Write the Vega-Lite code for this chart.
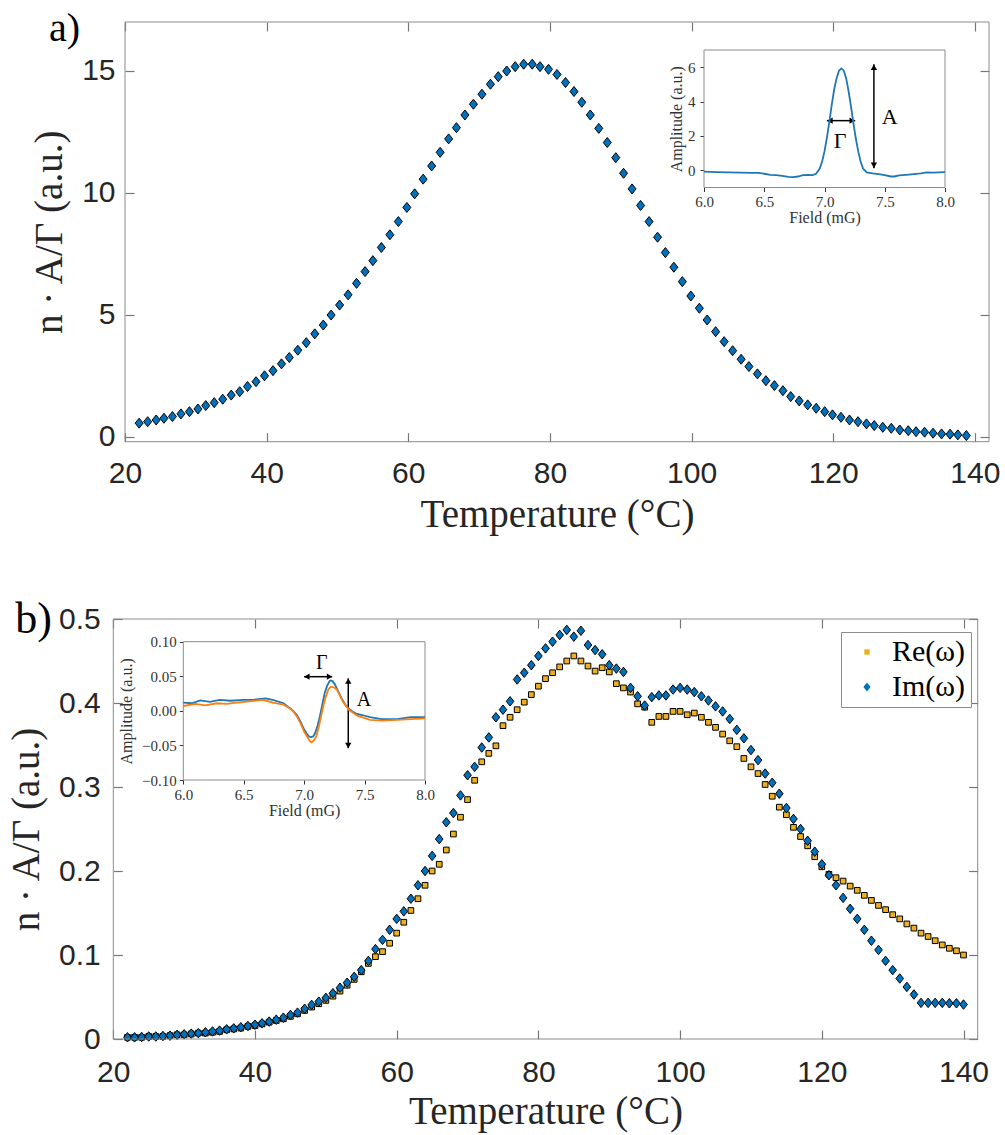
{
  "$schema": "https://vega.github.io/schema/vega-lite/v6.json",
  "width": 1005,
  "height": 1135,
  "autosize": {"type": "none"},
  "padding": 0,
  "background": "white",
  "config": {
    "view": {"stroke": null},
    "axis": {"zindex": 1, "grid": false, "labelFont": "Liberation Sans", "labelFontSize": 30, "labelColor": "#262626", "domain": false, "ticks": true, "tickColor": "#777777", "tickWidth": 1.2, "tickSize": 9, "titleFont": "Liberation Serif", "titleFontSize": 39, "titleFontWeight": "normal", "titleColor": "#262626", "labelFlush": false, "labelOverlap": false, "labelBound": false}
  },
  "datasets": {
    "a": [
      {"T":22.0,"V":0.56},{"T":23.2,"V":0.62},{"T":24.4,"V":0.69},{"T":25.5,"V":0.76},{"T":26.7,"V":0.83},{"T":27.9,"V":0.94},{"T":29.1,"V":1.03},{"T":30.3,"V":1.14},{"T":31.4,"V":1.28},{"T":32.6,"V":1.40},
      {"T":33.8,"V":1.54},{"T":35.0,"V":1.71},{"T":36.2,"V":1.85},{"T":37.3,"V":2.06},{"T":38.5,"V":2.26},{"T":39.7,"V":2.50},{"T":40.9,"V":2.71},{"T":42.1,"V":2.99},{"T":43.2,"V":3.25},{"T":44.4,"V":3.55},
      {"T":45.6,"V":3.86},{"T":46.8,"V":4.22},{"T":48.0,"V":4.58},{"T":49.1,"V":4.99},{"T":50.3,"V":5.40},{"T":51.5,"V":5.82},{"T":52.7,"V":6.29},{"T":53.9,"V":6.77},{"T":55.0,"V":7.22},{"T":56.2,"V":7.76},
      {"T":57.4,"V":8.28},{"T":58.6,"V":8.82},{"T":59.8,"V":9.40},{"T":60.9,"V":9.96},{"T":62.1,"V":10.56},{"T":63.3,"V":11.10},{"T":64.5,"V":11.66},{"T":65.7,"V":12.21},{"T":66.8,"V":12.67},{"T":68.0,"V":13.19},
      {"T":69.2,"V":13.63},{"T":70.4,"V":14.04},{"T":71.6,"V":14.45},{"T":72.7,"V":14.76},{"T":73.9,"V":14.99},{"T":75.1,"V":15.17},{"T":76.3,"V":15.27},{"T":77.5,"V":15.27},{"T":78.6,"V":15.17},{"T":79.8,"V":15.06},
      {"T":81.0,"V":14.85},{"T":82.2,"V":14.52},{"T":83.4,"V":14.15},{"T":84.5,"V":13.71},{"T":85.7,"V":13.19},{"T":86.9,"V":12.64},{"T":88.1,"V":12.06},{"T":89.3,"V":11.44},{"T":90.4,"V":10.80},{"T":91.6,"V":10.16},
      {"T":92.8,"V":9.48},{"T":94.0,"V":8.82},{"T":95.2,"V":8.18},{"T":96.3,"V":7.55},{"T":97.5,"V":6.95},{"T":98.7,"V":6.36},{"T":99.9,"V":5.77},{"T":101.1,"V":5.27},{"T":102.2,"V":4.79},{"T":103.4,"V":4.31},
      {"T":104.6,"V":3.90},{"T":105.8,"V":3.53},{"T":107.0,"V":3.18},{"T":108.1,"V":2.88},{"T":109.3,"V":2.58},{"T":110.5,"V":2.30},{"T":111.7,"V":2.10},{"T":112.9,"V":1.89},{"T":114.0,"V":1.65},{"T":115.2,"V":1.47},
      {"T":116.4,"V":1.31},{"T":117.6,"V":1.17},{"T":118.8,"V":1.03},{"T":119.9,"V":0.90},{"T":121.1,"V":0.80},{"T":122.3,"V":0.69},{"T":123.5,"V":0.62},{"T":124.7,"V":0.53},{"T":125.8,"V":0.46},{"T":127.0,"V":0.39},
      {"T":128.2,"V":0.35},{"T":129.4,"V":0.28},{"T":130.6,"V":0.25},{"T":131.7,"V":0.21},{"T":132.9,"V":0.19},{"T":134.1,"V":0.15},{"T":135.3,"V":0.12},{"T":136.5,"V":0.11},{"T":137.6,"V":0.08},{"T":138.8,"V":0.05}
    ],
    "b": [
      {"T":22,"Re":0.002,"Im":0.002},{"T":23,"Re":0.002,"Im":0.002},{"T":24,"Re":0.002,"Im":0.0024},{"T":25,"Re":0.003,"Im":0.003},{"T":26,"Re":0.003,"Im":0.003},
      {"T":27,"Re":0.003,"Im":0.0036},{"T":28,"Re":0.004,"Im":0.004},{"T":29,"Re":0.005,"Im":0.005},{"T":30,"Re":0.005,"Im":0.0056},{"T":31,"Re":0.006,"Im":0.0064},
      {"T":32,"Re":0.007,"Im":0.007},{"T":33,"Re":0.007,"Im":0.008},{"T":34,"Re":0.008,"Im":0.009},{"T":35,"Re":0.009,"Im":0.010},{"T":36,"Re":0.011,"Im":0.0115},
      {"T":37,"Re":0.012,"Im":0.0127},{"T":38,"Re":0.013,"Im":0.014},{"T":39,"Re":0.015,"Im":0.0155},{"T":40,"Re":0.016,"Im":0.017},{"T":41,"Re":0.018,"Im":0.0187},
      {"T":42,"Re":0.020,"Im":0.0207},{"T":43,"Re":0.022,"Im":0.023},{"T":44,"Re":0.024,"Im":0.0254},{"T":45,"Re":0.027,"Im":0.0286},{"T":46,"Re":0.030,"Im":0.0314},
      {"T":47,"Re":0.034,"Im":0.036},{"T":48,"Re":0.038,"Im":0.0406},{"T":49,"Re":0.042,"Im":0.0445},{"T":50,"Re":0.046,"Im":0.049},{"T":51,"Re":0.051,"Im":0.0545},
      {"T":52,"Re":0.057,"Im":0.061},{"T":53,"Re":0.064,"Im":0.067},{"T":54,"Re":0.071,"Im":0.074},{"T":55,"Re":0.080,"Im":0.082},{"T":56,"Re":0.090,"Im":0.093},
      {"T":57,"Re":0.098,"Im":0.107},{"T":58,"Re":0.104,"Im":0.118},{"T":59,"Re":0.114,"Im":0.130},{"T":60,"Re":0.126,"Im":0.143},{"T":61,"Re":0.139,"Im":0.152},
      {"T":62,"Re":0.153,"Im":0.167},{"T":63,"Re":0.167,"Im":0.183},{"T":64,"Re":0.183,"Im":0.200},{"T":65,"Re":0.200,"Im":0.218},{"T":66,"Re":0.208,"Im":0.238},
      {"T":67,"Re":0.225,"Im":0.258},{"T":68,"Re":0.244,"Im":0.269},{"T":69,"Re":0.264,"Im":0.290},{"T":70,"Re":0.285,"Im":0.314},{"T":71,"Re":0.308,"Im":0.324},
      {"T":72,"Re":0.330,"Im":0.347},{"T":73,"Re":0.340,"Im":0.359},{"T":74,"Re":0.349,"Im":0.383},{"T":75,"Re":0.373,"Im":0.392},{"T":76,"Re":0.383,"Im":0.402},
      {"T":77,"Re":0.392,"Im":0.428},{"T":78,"Re":0.401,"Im":0.436},{"T":79,"Re":0.410,"Im":0.445},{"T":80,"Re":0.420,"Im":0.456},{"T":81,"Re":0.429,"Im":0.465},
      {"T":82,"Re":0.436,"Im":0.473},{"T":83,"Re":0.443,"Im":0.481},{"T":84,"Re":0.450,"Im":0.487},{"T":85,"Re":0.456,"Im":0.479},{"T":86,"Re":0.450,"Im":0.486},
      {"T":87,"Re":0.444,"Im":0.469},{"T":88,"Re":0.438,"Im":0.463},{"T":89,"Re":0.442,"Im":0.458},{"T":90,"Re":0.437,"Im":0.445},{"T":91,"Re":0.423,"Im":0.441},
      {"T":92,"Re":0.418,"Im":0.437},{"T":93,"Re":0.413,"Im":0.418},{"T":94,"Re":0.399,"Im":0.408},{"T":95,"Re":0.395,"Im":0.397},{"T":96,"Re":0.377,"Im":0.407},
      {"T":97,"Re":0.384,"Im":0.409},{"T":98,"Re":0.384,"Im":0.409},{"T":99,"Re":0.390,"Im":0.416},{"T":100,"Re":0.390,"Im":0.418},{"T":101,"Re":0.386,"Im":0.416},
      {"T":102,"Re":0.388,"Im":0.413},{"T":103,"Re":0.383,"Im":0.408},{"T":104,"Re":0.377,"Im":0.403},{"T":105,"Re":0.371,"Im":0.396},{"T":106,"Re":0.363,"Im":0.390},
      {"T":107,"Re":0.355,"Im":0.381},{"T":108,"Re":0.348,"Im":0.368},{"T":109,"Re":0.334,"Im":0.358},{"T":110,"Re":0.324,"Im":0.344},{"T":111,"Re":0.316,"Im":0.332},
      {"T":112,"Re":0.303,"Im":0.316},{"T":113,"Re":0.289,"Im":0.305},{"T":114,"Re":0.276,"Im":0.292},{"T":115,"Re":0.267,"Im":0.275},{"T":116,"Re":0.252,"Im":0.262},
      {"T":117,"Re":0.241,"Im":0.250},{"T":118,"Re":0.230,"Im":0.236},{"T":119,"Re":0.217,"Im":0.223},{"T":120,"Re":0.205,"Im":0.208},{"T":121,"Re":0.196,"Im":0.195},
      {"T":122,"Re":0.192,"Im":0.183},{"T":123,"Re":0.188,"Im":0.168},{"T":124,"Re":0.182,"Im":0.155},{"T":125,"Re":0.177,"Im":0.143},{"T":126,"Re":0.171,"Im":0.130},
      {"T":127,"Re":0.165,"Im":0.117},{"T":128,"Re":0.159,"Im":0.106},{"T":129,"Re":0.154,"Im":0.093},{"T":130,"Re":0.148,"Im":0.082},{"T":131,"Re":0.143,"Im":0.072},
      {"T":132,"Re":0.137,"Im":0.062},{"T":133,"Re":0.132,"Im":0.053},{"T":134,"Re":0.126,"Im":0.043},{"T":135,"Re":0.122,"Im":0.043},{"T":136,"Re":0.117,"Im":0.043},
      {"T":137,"Re":0.112,"Im":0.043},{"T":138,"Re":0.108,"Im":0.0425},{"T":139,"Re":0.105,"Im":0.0425},{"T":140,"Re":0.100,"Im":0.041}
    ],
    "ia": [
      {"f":6.00,"a":-0.08},{"f":6.10,"a":-0.10},{"f":6.20,"a":-0.12},{"f":6.30,"a":-0.14},{"f":6.40,"a":-0.15},{"f":6.45,"a":-0.15},{"f":6.50,"a":-0.20},{"f":6.55,"a":-0.26},{"f":6.60,"a":-0.28},{"f":6.65,"a":-0.32},
      {"f":6.70,"a":-0.38},{"f":6.74,"a":-0.40},{"f":6.78,"a":-0.36},{"f":6.82,"a":-0.28},{"f":6.86,"a":-0.26},{"f":6.90,"a":-0.28},{"f":6.93,"a":-0.20},{"f":6.96,"a":0.10},{"f":6.98,"a":0.50},{"f":7.00,"a":1.10},
      {"f":7.02,"a":1.90},{"f":7.04,"a":2.80},{"f":7.06,"a":3.80},{"f":7.08,"a":4.70},{"f":7.10,"a":5.35},{"f":7.12,"a":5.80},{"f":7.14,"a":5.93},{"f":7.16,"a":5.80},{"f":7.18,"a":5.35},{"f":7.20,"a":4.60},
      {"f":7.22,"a":3.70},{"f":7.24,"a":2.75},{"f":7.26,"a":1.85},{"f":7.28,"a":1.10},{"f":7.30,"a":0.50},{"f":7.32,"a":0.10},{"f":7.35,"a":-0.12},{"f":7.40,"a":-0.18},{"f":7.45,"a":-0.22},{"f":7.50,"a":-0.28},
      {"f":7.55,"a":-0.36},{"f":7.58,"a":-0.36},{"f":7.62,"a":-0.30},{"f":7.70,"a":-0.25},{"f":7.80,"a":-0.18},{"f":7.85,"a":-0.12},{"f":7.90,"a":-0.14},{"f":8.00,"a":-0.10}
    ],
    "ib1": [
      {"f":6.00,"a":0.012},{"f":6.07,"a":0.011},{"f":6.14,"a":0.015},{"f":6.22,"a":0.013},{"f":6.30,"a":0.016},{"f":6.39,"a":0.0146},{"f":6.50,"a":0.016},{"f":6.58,"a":0.016},{"f":6.68,"a":0.018},{"f":6.74,"a":0.016},
      {"f":6.83,"a":0.011},{"f":6.90,"a":0.0015},{"f":6.94,"a":-0.006},{"f":6.97,"a":-0.0155},{"f":7.00,"a":-0.027},{"f":7.02,"a":-0.0325},{"f":7.04,"a":-0.037},{"f":7.057,"a":-0.038},{"f":7.075,"a":-0.037},{"f":7.09,"a":-0.0325},
      {"f":7.11,"a":-0.022},{"f":7.13,"a":-0.008},{"f":7.15,"a":0.009},{"f":7.17,"a":0.026},{"f":7.19,"a":0.036},{"f":7.21,"a":0.043},{"f":7.22,"a":0.044},{"f":7.235,"a":0.043},{"f":7.255,"a":0.038},{"f":7.28,"a":0.029},
      {"f":7.31,"a":0.018},{"f":7.34,"a":0.009},{"f":7.365,"a":0.004},{"f":7.40,"a":-0.001},{"f":7.43,"a":-0.004},{"f":7.48,"a":-0.006},{"f":7.545,"a":-0.009},{"f":7.64,"a":-0.012},{"f":7.77,"a":-0.012},{"f":7.88,"a":-0.009},{"f":8.00,"a":-0.009}
    ],
    "ib2": [
      {"f":6.00,"a":0.007},{"f":6.10,"a":0.010},{"f":6.18,"a":0.008},{"f":6.28,"a":0.011},{"f":6.36,"a":0.010},{"f":6.44,"a":0.012},{"f":6.55,"a":0.0136},{"f":6.66,"a":0.016},{"f":6.74,"a":0.012},{"f":6.83,"a":0.009},
      {"f":6.90,"a":0.0015},{"f":6.94,"a":-0.008},{"f":6.97,"a":-0.018},{"f":7.00,"a":-0.030},{"f":7.02,"a":-0.036},{"f":7.045,"a":-0.043},{"f":7.06,"a":-0.0456},{"f":7.08,"a":-0.043},{"f":7.10,"a":-0.037},{"f":7.12,"a":-0.024},
      {"f":7.14,"a":-0.008},{"f":7.16,"a":0.008},{"f":7.18,"a":0.021},{"f":7.20,"a":0.031},{"f":7.22,"a":0.035},{"f":7.245,"a":0.034},{"f":7.27,"a":0.031},{"f":7.32,"a":0.0136},{"f":7.37,"a":0.0015},{"f":7.44,"a":-0.007},
      {"f":7.545,"a":-0.013},{"f":7.65,"a":-0.014},{"f":7.77,"a":-0.013},{"f":7.88,"a":-0.012},{"f":8.00,"a":-0.011}
    ]
  },
  "layer": [
    {
      "data": {"name": "a"},
      "mark": {"type": "point", "shape": "M0,-1L0.8,0L0,1L-0.8,0Z", "filled": true, "fill": "#0072BD", "stroke": "black", "strokeWidth": 1, "size": 100, "opacity": 1},
      "encoding": {
        "x": {"field": "T", "type": "quantitative", "scale": {"domain": [20, 142], "range": [125, 989], "nice": false, "zero": false},
              "axis": {"orient": "bottom", "offset": -702.3, "values": [20, 40, 60, 80, 100, 120, 140], "format": "d", "labelPadding": 17, "title": "Temperature (°C)", "titleY": 94, "titleBaseline": "alphabetic"}},
        "y": {"field": "V", "type": "quantitative", "scale": {"domain": [-0.2, 17], "range": [441.7, 22], "nice": false, "zero": false},
              "axis": {"orient": "left", "offset": -134, "values": [0, 5, 10, 15], "format": "d", "labelPadding": 10, "title": "n · A/Γ (a.u.)", "titleX": -72.5, "titleBaseline": "alphabetic"}}
      }
    },
    {
      "data": {"name": "a"},
      "mark": {"type": "point", "opacity": 0},
      "encoding": {
        "x": {"field": "T", "type": "quantitative", "scale": {"domain": [20, 142], "range": [125, 989], "nice": false, "zero": false},
              "axis": {"orient": "top", "offset": -31, "values": [20, 40, 60, 80, 100, 120, 140], "labels": false, "title": null}},
        "y": {"field": "V", "type": "quantitative", "scale": {"domain": [-0.2, 17], "range": [441.7, 22], "nice": false, "zero": false},
              "axis": {"orient": "right", "offset": -25, "values": [0, 5, 10, 15], "labels": false, "title": null}}
      }
    },
    {
      "layer": [
        {
          "data": {"values": [{}]},
          "mark": {"type": "rect", "fill": "transparent", "stroke": "#8c8c8c", "strokeWidth": 1},
          "encoding": {
            "x": {"datum": 20, "type": "quantitative", "scale": {"domain": [20, 142], "range": [125, 989], "nice": false, "zero": false}, "axis": null},
            "x2": {"datum": 142},
            "y": {"datum": -0.2, "type": "quantitative", "scale": {"domain": [-0.2, 17], "range": [441.7, 22], "nice": false, "zero": false}, "axis": null},
            "y2": {"datum": 17}
          }
        },
        {
          "data": {"values": [{}]},
          "mark": {"type": "text", "text": "a)", "font": "Liberation Serif", "fontSize": 40, "align": "center", "baseline": "middle", "color": "black"},
          "encoding": {"x": {"datum": 11.46, "type": "quantitative", "axis": null}, "y": {"datum": 16.71, "type": "quantitative", "axis": null}}
        }
      ]
    },
    {
      "layer": [
        {
          "data": {"values": [{}]},
          "mark": {"type": "rect", "fill": "white", "stroke": "#8c8c8c", "strokeWidth": 1},
          "encoding": {
            "x": {"datum": 6, "type": "quantitative", "scale": {"domain": [6, 8], "range": [704, 945], "nice": false, "zero": false}, "axis": null},
            "x2": {"datum": 8},
            "y": {"datum": -1, "type": "quantitative", "scale": {"domain": [-1, 7], "range": [187.5, 50], "nice": false, "zero": false}, "axis": null},
            "y2": {"datum": 7}
          }
        },
        {
          "data": {"values": [{}]},
          "mark": {"type": "rule", "color": "black", "strokeWidth": 1.5},
          "encoding": {"x": {"datum": 7.02, "type": "quantitative", "axis": null}, "x2": {"datum": 7.255}, "y": {"datum": 2.89, "type": "quantitative", "axis": null}}
        },
        {
          "data": {"values": [{}]},
          "mark": {"type": "rule", "color": "black", "strokeWidth": 1.5},
          "encoding": {"x": {"datum": 7.41, "type": "quantitative", "axis": null}, "y": {"datum": 6.17, "type": "quantitative", "axis": null}, "y2": {"datum": 0.12}}
        },
        {
          "data": {"values": [{}]},
          "mark": {"type": "point", "shape": "triangle-left", "filled": true, "color": "black", "size": 40, "opacity": 1},
          "encoding": {"x": {"datum": 7.045, "type": "quantitative", "axis": null}, "y": {"datum": 2.89, "type": "quantitative", "axis": null}}
        },
        {
          "data": {"values": [{}]},
          "mark": {"type": "point", "shape": "triangle-right", "filled": true, "color": "black", "size": 40, "opacity": 1},
          "encoding": {"x": {"datum": 7.23, "type": "quantitative", "axis": null}, "y": {"datum": 2.89, "type": "quantitative", "axis": null}}
        },
        {
          "data": {"values": [{}]},
          "mark": {"type": "point", "shape": "triangle-up", "filled": true, "color": "black", "size": 40, "opacity": 1},
          "encoding": {"x": {"datum": 7.41, "type": "quantitative", "axis": null}, "y": {"datum": 6.0, "type": "quantitative", "axis": null}}
        },
        {
          "data": {"values": [{}]},
          "mark": {"type": "point", "shape": "triangle-down", "filled": true, "color": "black", "size": 40, "opacity": 1},
          "encoding": {"x": {"datum": 7.41, "type": "quantitative", "axis": null}, "y": {"datum": 0.3, "type": "quantitative", "axis": null}}
        },
        {
          "data": {"values": [{}]},
          "mark": {"type": "text", "text": "Γ", "font": "Liberation Serif", "fontSize": 22, "align": "center", "baseline": "middle", "color": "black"},
          "encoding": {"x": {"datum": 7.13, "type": "quantitative", "axis": null}, "y": {"datum": 1.68, "type": "quantitative", "axis": null}}
        },
        {
          "data": {"values": [{}]},
          "mark": {"type": "text", "text": "A", "font": "Liberation Serif", "fontSize": 22, "align": "center", "baseline": "middle", "color": "black"},
          "encoding": {"x": {"datum": 7.54, "type": "quantitative", "axis": null}, "y": {"datum": 3.08, "type": "quantitative", "axis": null}}
        }
      ]
    },
    {
      "data": {"name": "ia"},
      "mark": {"type": "line", "color": "#1f77b4", "strokeWidth": 1.8},
      "encoding": {
        "x": {"field": "f", "type": "quantitative", "scale": {"domain": [6, 8], "range": [704, 945], "nice": false, "zero": false},
              "axis": {"orient": "bottom", "offset": -947.5, "values": [6, 6.5, 7, 7.5, 8], "format": ".1f", "labelFont": "Liberation Serif", "labelFontSize": 15, "labelColor": "#333333", "tickSize": 4, "tickColor": "#333333", "tickWidth": 1, "labelPadding": 3, "title": "Field (mG)", "titleFont": "Liberation Serif", "titleFontSize": 16, "titleColor": "#333333", "titleY": 35, "titleBaseline": "alphabetic"}},
        "y": {"field": "a", "type": "quantitative", "scale": {"domain": [-1, 7], "range": [187.5, 50], "nice": false, "zero": false},
              "axis": {"orient": "left", "offset": -704, "values": [0, 2, 4, 6], "format": "d", "labelFont": "Liberation Serif", "labelFontSize": 15, "labelColor": "#333333", "tickSize": 4, "tickColor": "#333333", "tickWidth": 1, "labelPadding": 5, "title": "Amplitude (a.u.)", "titleFont": "Liberation Serif", "titleFontSize": 16, "titleColor": "#333333", "titleX": -22.5, "titleBaseline": "alphabetic"}}
      }
    },
    {
      "data": {"name": "b"},
      "transform": [{"fold": ["Re", "Im"], "as": ["s", "v"]}],
      "mark": {"type": "point", "filled": true, "stroke": "black", "strokeWidth": 1, "size": 90, "opacity": 1},
      "encoding": {
        "x": {"field": "T", "type": "quantitative", "scale": {"domain": [20, 142], "range": [113.3, 977.7], "nice": false, "zero": false},
              "axis": {"orient": "bottom", "offset": -105, "values": [20, 40, 60, 80, 100, 120, 140], "format": "d", "labelPadding": 18, "title": "Temperature (°C)", "titleY": 93, "titleBaseline": "alphabetic"}},
        "y": {"field": "v", "type": "quantitative", "scale": {"domain": [0, 0.5], "range": [1039, 619], "nice": false, "zero": false},
              "axis": {"orient": "left", "offset": -122.3, "values": [0, 0.1, 0.2, 0.3, 0.4, 0.5], "labelExpr": "datum.value === 0 ? '0' : format(datum.value, '.1f')", "labelPadding": 13, "title": "n · A/Γ (a.u.)", "titleX": -84.3, "titleBaseline": "alphabetic"}},
        "fill": {"field": "s", "type": "nominal", "scale": {"domain": ["Re", "Im"], "range": ["#EDB120", "#0072BD"]},
                 "legend": {"orient": "none", "legendX": 841, "legendY": 632, "title": null, "labelExpr": "datum.label + '(ω)'", "labelFont": "Liberation Serif", "labelFontSize": 30, "labelColor": "black", "symbolSize": 80, "symbolStrokeColor": "black", "symbolStrokeWidth": 1, "strokeColor": "#8c8c8c", "fillColor": "white", "padding": 5, "rowPadding": 5, "symbolOffset": 6, "labelOffset": 10}},
        "shape": {"field": "s", "type": "nominal", "scale": {"domain": ["Re", "Im"], "range": ["M-0.6,-0.6L0.6,-0.6L0.6,0.6L-0.6,0.6Z", "M0,-1L0.8,0L0,1L-0.8,0Z"]},
                 "legend": {"orient": "none", "legendX": 841, "legendY": 632, "title": null, "labelExpr": "datum.label + '(ω)'", "labelFont": "Liberation Serif", "labelFontSize": 30, "labelColor": "black", "symbolSize": 80, "symbolStrokeColor": "black", "symbolStrokeWidth": 1, "strokeColor": "#8c8c8c", "fillColor": "white", "padding": 5, "rowPadding": 5, "symbolOffset": 6, "labelOffset": 10}},
        "order": {"field": "s", "sort": "descending"}
      }
    },
    {
      "data": {"name": "b"},
      "mark": {"type": "point", "opacity": 0},
      "encoding": {
        "x": {"field": "T", "type": "quantitative", "scale": {"domain": [20, 142], "range": [113.3, 977.7], "nice": false, "zero": false},
              "axis": {"orient": "top", "offset": -628, "values": [20, 40, 60, 80, 100, 120, 140], "labels": false, "title": null}},
        "y": {"field": "Re", "type": "quantitative", "scale": {"domain": [0, 0.5], "range": [1039, 619], "nice": false, "zero": false},
              "axis": {"orient": "right", "offset": -36.3, "values": [0, 0.1, 0.2, 0.3, 0.4, 0.5], "labels": false, "title": null}}
      }
    },
    {
      "layer": [
        {
          "data": {"values": [{}]},
          "mark": {"type": "rect", "fill": "transparent", "stroke": "#8c8c8c", "strokeWidth": 1},
          "encoding": {
            "x": {"datum": 20, "type": "quantitative", "scale": {"domain": [20, 142], "range": [113.3, 977.7], "nice": false, "zero": false}, "axis": null},
            "x2": {"datum": 142},
            "y": {"datum": 0, "type": "quantitative", "scale": {"domain": [0, 0.5], "range": [1039, 619], "nice": false, "zero": false}, "axis": null},
            "y2": {"datum": 0.5}
          }
        },
        {
          "data": {"values": [{}]},
          "mark": {"type": "text", "text": "b)", "font": "Liberation Serif", "fontSize": 44, "align": "center", "baseline": "middle", "color": "black"},
          "encoding": {"x": {"datum": 8.74, "type": "quantitative", "axis": null}, "y": {"datum": 0.4988, "type": "quantitative", "axis": null}}
        }
      ]
    },
    {
      "layer": [
        {
          "data": {"values": [{}]},
          "mark": {"type": "rect", "fill": "white", "stroke": "#8c8c8c", "strokeWidth": 1},
          "encoding": {
            "x": {"datum": 6, "type": "quantitative", "scale": {"domain": [6, 8], "range": [183.3, 425], "nice": false, "zero": false}, "axis": null},
            "x2": {"datum": 8},
            "y": {"datum": -0.1, "type": "quantitative", "scale": {"domain": [-0.1, 0.1], "range": [780, 641.7], "nice": false, "zero": false}, "axis": null},
            "y2": {"datum": 0.1}
          }
        },
        {
          "data": {"values": [{}]},
          "mark": {"type": "rule", "color": "black", "strokeWidth": 1.5},
          "encoding": {"x": {"datum": 7.0, "type": "quantitative", "axis": null}, "x2": {"datum": 7.232}, "y": {"datum": 0.0494, "type": "quantitative", "axis": null}}
        },
        {
          "data": {"values": [{}]},
          "mark": {"type": "rule", "color": "black", "strokeWidth": 1.5},
          "encoding": {"x": {"datum": 7.365, "type": "quantitative", "axis": null}, "y": {"datum": 0.047, "type": "quantitative", "axis": null}, "y2": {"datum": -0.054}}
        },
        {
          "data": {"values": [{}]},
          "mark": {"type": "point", "shape": "triangle-left", "filled": true, "color": "black", "size": 40, "opacity": 1},
          "encoding": {"x": {"datum": 7.022, "type": "quantitative", "axis": null}, "y": {"datum": 0.0494, "type": "quantitative", "axis": null}}
        },
        {
          "data": {"values": [{}]},
          "mark": {"type": "point", "shape": "triangle-right", "filled": true, "color": "black", "size": 40, "opacity": 1},
          "encoding": {"x": {"datum": 7.21, "type": "quantitative", "axis": null}, "y": {"datum": 0.0494, "type": "quantitative", "axis": null}}
        },
        {
          "data": {"values": [{}]},
          "mark": {"type": "point", "shape": "triangle-up", "filled": true, "color": "black", "size": 40, "opacity": 1},
          "encoding": {"x": {"datum": 7.365, "type": "quantitative", "axis": null}, "y": {"datum": 0.043, "type": "quantitative", "axis": null}}
        },
        {
          "data": {"values": [{}]},
          "mark": {"type": "point", "shape": "triangle-down", "filled": true, "color": "black", "size": 40, "opacity": 1},
          "encoding": {"x": {"datum": 7.365, "type": "quantitative", "axis": null}, "y": {"datum": -0.05, "type": "quantitative", "axis": null}}
        },
        {
          "data": {"values": [{}]},
          "mark": {"type": "text", "text": "Γ", "font": "Liberation Serif", "fontSize": 20, "align": "center", "baseline": "middle", "color": "black"},
          "encoding": {"x": {"datum": 7.145, "type": "quantitative", "axis": null}, "y": {"datum": 0.0688, "type": "quantitative", "axis": null}}
        },
        {
          "data": {"values": [{}]},
          "mark": {"type": "text", "text": "A", "font": "Liberation Serif", "fontSize": 20, "align": "center", "baseline": "middle", "color": "black"},
          "encoding": {"x": {"datum": 7.495, "type": "quantitative", "axis": null}, "y": {"datum": 0.0157, "type": "quantitative", "axis": null}}
        }
      ]
    },
    {
      "layer": [
        {
          "data": {"name": "ib1"},
          "mark": {"type": "line", "color": "#1f77b4", "strokeWidth": 1.8},
          "encoding": {
            "x": {"field": "f", "type": "quantitative", "scale": {"domain": [6, 8], "range": [183.3, 425], "nice": false, "zero": false},
                  "axis": {"orient": "bottom", "offset": -355, "values": [6, 6.5, 7, 7.5, 8], "format": ".1f", "labelFont": "Liberation Serif", "labelFontSize": 15, "labelColor": "#333333", "tickSize": 4, "tickColor": "#333333", "tickWidth": 1, "labelPadding": 3, "title": "Field (mG)", "titleFont": "Liberation Serif", "titleFontSize": 16, "titleColor": "#333333", "titleY": 35, "titleBaseline": "alphabetic"}},
            "y": {"field": "a", "type": "quantitative", "scale": {"domain": [-0.1, 0.1], "range": [780, 641.7], "nice": false, "zero": false},
                  "axis": {"orient": "left", "offset": -183.3, "values": [-0.1, -0.05, 0, 0.05, 0.1], "format": ".2f", "labelFont": "Liberation Serif", "labelFontSize": 15, "labelColor": "#333333", "tickSize": 4, "tickColor": "#333333", "tickWidth": 1, "labelPadding": 3, "title": "Amplitude (a.u.)", "titleFont": "Liberation Serif", "titleFontSize": 16, "titleColor": "#333333", "titleX": -51.5, "titleBaseline": "alphabetic"}}
          }
        },
        {
          "data": {"name": "ib2"},
          "mark": {"type": "line", "color": "#ff7f0e", "strokeWidth": 1.8},
          "encoding": {"x": {"field": "f", "type": "quantitative", "title": "Field (mG)"}, "y": {"field": "a", "type": "quantitative", "title": "Amplitude (a.u.)"}}
        }
      ]
    }
  ],
  "resolve": {"scale": {"x": "independent", "y": "independent"}}
}
